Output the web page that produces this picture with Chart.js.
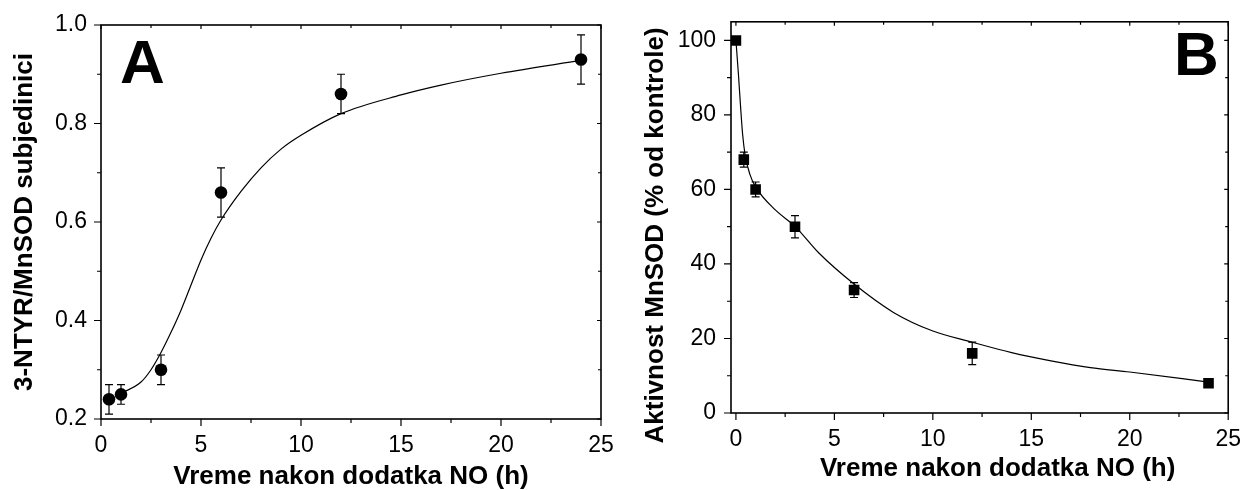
<!DOCTYPE html>
<html>
<head>
<meta charset="utf-8">
<script src="https://cdn.jsdelivr.net/npm/chart.js@4.4.0/dist/chart.umd.min.js"></script>
<style>
  html, body { margin: 0; padding: 0; background: #fff; }
  #wrap { position: relative; width: 1247px; height: 490px; }
  canvas { position: absolute; top: 0; }
  #chartA { left: 0; }
  #chartB { left: 620px; }
</style>
</head>
<body>
<div id="wrap">
  <canvas id="chartA" width="620" height="490"></canvas>
  <canvas id="chartB" width="627" height="490"></canvas>
</div>
<script>
// Panel A: 3-NTYR/MnSOD over time
const timeA = [0.4, 1, 3, 6, 12, 24];
const nitroA = [0.24, 0.25, 0.30, 0.66, 0.86, 0.93];
const nitroErrA = [0.03, 0.02, 0.03, 0.05, 0.04, 0.05];
// fitted curve
const fitTimeA = [1, 2, 2.5, 3, 3.5, 4, 4.5, 5, 5.5, 6, 7, 8, 9, 10, 12, 15, 17, 20, 24];
const fitA = [0.252, 0.275, 0.300, 0.335, 0.376, 0.421, 0.472, 0.523, 0.567, 0.604, 0.662, 0.710, 0.748, 0.776, 0.820, 0.858, 0.878, 0.902, 0.928];

// Panel B: MnSOD activity (% of control)
const timeB = [0, 0.4, 1, 3, 6, 12, 24];
const activityB = [100, 68, 60, 50, 33, 16, 8];
const activityErrB = [0, 2, 2, 3, 2, 3, 1];
const fitTimeB = [0, 0.13, 0.24, 0.34, 0.46, 0.7, 1, 2, 3, 4.2, 6, 8, 10, 12, 14, 16, 18, 20, 24];
const fitB = [100, 90.7, 81.9, 74.8, 69.5, 64.2, 60.7, 54.5, 50.1, 43.0, 34.6, 27.0, 22.0, 19.0, 16.2, 14.0, 12.2, 11.0, 8.3];

// tick labels
const xTicks = [0, 5, 10, 15, 20, 25];
const yTicksA = [0.2, 0.4, 0.6, 0.8, 1.0];
const yTicksB = [0, 20, 40, 60, 80, 100];

const FONT = "'Liberation Sans', Arial, Helvetica, sans-serif";
Chart.defaults.font.family = FONT;
Chart.defaults.color = '#000';

// box frame, outward ticks on left/bottom, inward on top/right, panel letter
const framePlugin = {
  id: 'frame',
  afterDraw(chart, args, opts) {
    const { ctx, chartArea: a, scales: { x, y } } = chart;
    const mids = vals => vals.slice(1).map((v, i) => (v + vals[i]) / 2);
    const xs = x.ticks.map(t => t.value);
    const ys = y.ticks.map(t => t.value);
    ctx.save();
    ctx.strokeStyle = '#000';
    ctx.lineWidth = 1.2;
    ctx.beginPath();
    const tickX = (v, outLen, inLen) => {
      const px = x.getPixelForValue(v);
      ctx.moveTo(px, a.bottom); ctx.lineTo(px, a.bottom + outLen);
      ctx.moveTo(px, a.top); ctx.lineTo(px, a.top + inLen);
    };
    const tickY = (v, outLen, inLen) => {
      const py = y.getPixelForValue(v);
      ctx.moveTo(a.left, py); ctx.lineTo(a.left - outLen, py);
      ctx.moveTo(a.right, py); ctx.lineTo(a.right - inLen, py);
    };
    xs.forEach(v => tickX(v, 7, 4));
    mids(xs).forEach(v => tickX(v, 4, 3));
    ys.forEach(v => tickY(v, 7, 4));
    mids(ys).forEach(v => tickY(v, 4, 3));
    ctx.stroke();
    ctx.lineWidth = 1.6;
    ctx.strokeRect(a.left, a.top, a.right - a.left, a.bottom - a.top);
    ctx.fillStyle = '#000';
    ctx.font = 'bold 62px ' + FONT;
    ctx.textBaseline = 'alphabetic';
    ctx.textAlign = 'left';
    ctx.fillText(opts.label, opts.labelX, opts.labelY);
    ctx.restore();
  }
};

// vertical error bars with caps
const errorBarPlugin = {
  id: 'errorBars',
  beforeDatasetsDraw(chart, args, opts) {
    const { ctx, scales: { x, y } } = chart;
    const ds = chart.data.datasets[0].data;
    ctx.save();
    ctx.strokeStyle = '#000';
    ctx.lineWidth = 1.2;
    ctx.beginPath();
    ds.forEach((p, i) => {
      const e = opts.errors[i];
      if (!e) return;
      const px = x.getPixelForValue(p.x);
      const y1 = y.getPixelForValue(p.y + e);
      const y2 = y.getPixelForValue(p.y - e);
      ctx.moveTo(px, y1); ctx.lineTo(px, y2);
      ctx.moveTo(px - 4, y1); ctx.lineTo(px + 4, y1);
      ctx.moveTo(px - 4, y2); ctx.lineTo(px + 4, y2);
    });
    ctx.stroke();
    ctx.restore();
  }
};

function toPoints(xs, ys) {
  return xs.map((v, i) => ({ x: v, y: ys[i] }));
}

function makePanel(id, p) {
  new Chart(document.getElementById(id), {
    type: 'scatter',
    data: {
      datasets: [{
        data: toPoints(p.xData, p.yData),
        pointStyle: p.marker,
        pointRadius: p.radius,
        pointHoverRadius: p.radius,
        backgroundColor: '#000',
        borderColor: '#000',
        borderWidth: 0,
        showLine: false
      }, {
        data: toPoints(p.fitX, p.fitY),
        showLine: true,
        pointRadius: 0,
        borderColor: '#000',
        borderWidth: 1.2,
        cubicInterpolationMode: 'monotone',
        fill: false
      }]
    },
    options: {
      responsive: false,
      animation: false,
      devicePixelRatio: 1,
      layout: { padding: { top: p.padTop, right: p.padRight, left: 0, bottom: 0 } },
      plugins: {
        legend: { display: false },
        tooltip: { enabled: false },
        frame: { label: p.label, labelX: p.labelX, labelY: p.labelY },
        errorBars: { errors: p.errors }
      },
      scales: {
        x: {
          type: 'linear',
          min: p.xMin,
          max: 25,
          afterFit: s => { s.height = p.xAxisH; },
          afterBuildTicks: s => { s.ticks = xTicks.map(v => ({ value: v })); },
          grid: { display: false, drawTicks: true, tickLength: 7 },
          border: { display: false },
          ticks: { font: { size: 23 }, padding: 6, maxRotation: 0, autoSkip: false },
          title: {
            display: true,
            text: p.xTitle,
            font: { size: 26, weight: 'bold', lineHeight: 1 },
            padding: { top: 0, bottom: p.xTitlePad }
          }
        },
        y: {
          type: 'linear',
          min: p.yMin,
          max: p.yMax,
          afterFit: s => { s.width = p.yAxisW; },
          afterBuildTicks: s => { s.ticks = p.yTicks.map(v => ({ value: v })); },
          grid: { display: false, drawTicks: true, tickLength: 7 },
          border: { display: false },
          ticks: { font: { size: 23 }, padding: p.yTickPad, callback: p.yFmt, autoSkip: false },
          title: {
            display: true,
            text: p.yTitle,
            font: { size: 26, weight: 'bold', lineHeight: 1 },
            padding: { top: p.yTitlePad, bottom: 0 }
          }
        }
      }
    },
    plugins: [errorBarPlugin, framePlugin]
  });
}

makePanel('chartA', {
  xData: timeA, yData: nitroA, errors: nitroErrA,
  fitX: fitTimeA, fitY: fitA,
  marker: 'circle', radius: 6.3,
  xMin: 0, yMin: 0.2, yMax: 1.0, yTicks: yTicksA,
  yFmt: v => v.toFixed(1),
  padTop: 25, padRight: 19, xAxisH: 71, yAxisW: 101,
  yTickPad: 7, xTitlePad: 0, yTitlePad: 12,
  xTitle: 'Vreme nakon dodatka NO (h)',
  yTitle: '3-NTYR/MnSOD subjedinici',
  label: 'A', labelX: 120, labelY: 83
});

makePanel('chartB', {
  xData: timeB, yData: activityB, errors: activityErrB,
  fitX: fitTimeB, fitY: fitB,
  marker: 'rect', radius: 7.5,
  xMin: -0.25, yMin: 0, yMax: 105, yTicks: yTicksB,
  yFmt: v => String(v),
  padTop: 16, padRight: 14, xAxisH: 77, yAxisW: 111,
  yTickPad: 8, xTitlePad: 8, yTitlePad: 23,
  xTitle: '     Vreme nakon dodatka NO (h)',
  yTitle: 'Aktivnost MnSOD (% od kontrole)     ',
  label: 'B', labelX: 554, labelY: 75
});
</script>
</body>
</html>
